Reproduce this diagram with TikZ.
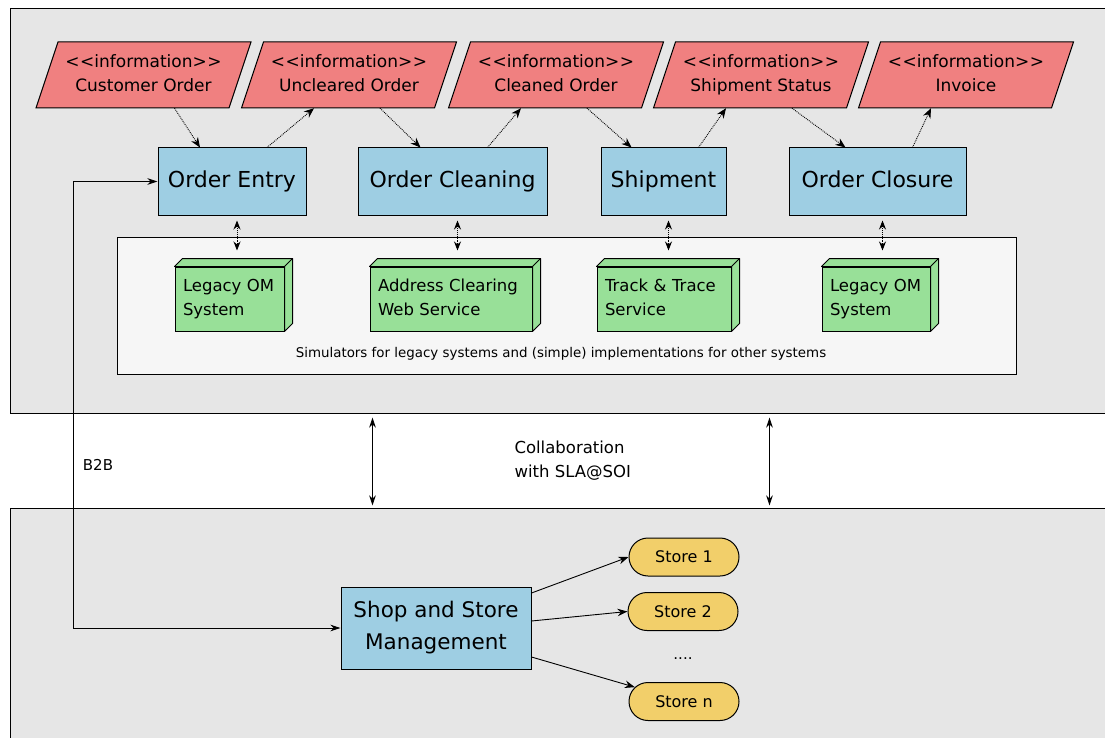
\documentclass[tikz,border=0pt]{standalone}
\usepackage{fontspec}
\setmainfont{DejaVu Sans}
\usetikzlibrary{arrows.meta,shapes.misc}

\definecolor{panelgray}{RGB}{230,230,230}
\definecolor{simwhite}{RGB}{246,246,246}
\definecolor{infored}{RGB}{240,128,128}
\definecolor{taskblue}{RGB}{158,206,227}
\definecolor{simgreen}{RGB}{152,224,152}
\definecolor{storeyellow}{RGB}{242,207,106}

% guillemet-free stereotype (keeps << and >> apart)
\newcommand{\stereotype}[1]{<\kern0.5pt<#1>\kern0.5pt>}

\begin{document}
\begin{tikzpicture}[x=1pt, y=-1pt,
  panel/.style={draw, line width=1pt, fill=panelgray, inner sep=0pt},
  infobox/.style={draw, line width=1pt, fill=infored, line join=miter},
  info/.style={minimum width=193pt, minimum height=66pt, inner sep=0pt,
    align=center, font=\fontsize{17}{24}\selectfont},
  task/.style={draw, line width=1pt, fill=taskblue, minimum height=67pt,
    inner sep=0pt, align=center, font=\fontsize{22}{32}\selectfont},
  sim/.style={draw, line width=1pt, fill=simgreen, minimum height=64pt,
    inner xsep=8pt, inner ysep=0pt, align=left,
    font=\fontsize{16.5}{24}\selectfont},
  store/.style={rounded rectangle, draw, line width=1pt, fill=storeyellow,
    minimum width=110pt, minimum height=38pt, inner sep=0pt,
    font=\fontsize{16}{20}\selectfont},
  flow/.style={densely dotted, line width=0.9pt, -{Stealth[length=10pt,width=8pt]}},
  link/.style={densely dotted, line width=0.9pt,
    {Stealth[length=9pt,width=7pt]}-{Stealth[length=9pt,width=7pt]}},
  bidir/.style={line width=0.9pt,
    {Stealth[length=10pt,width=6.5pt]}-{Stealth[length=10pt,width=6.5pt]}},
  feed/.style={line width=0.9pt, -{Stealth[length=10pt,width=7.5pt]}}
]
\clip (0,0) rectangle (1105,738);

% panels
\node[panel, minimum width=1115pt, minimum height=404pt] (toppanel) at (567.5,211) {};
\node[panel, minimum width=1115pt, minimum height=252pt] (botpanel) at (567.5,634) {};
\node[draw, line width=1pt, fill=simwhite, minimum width=899pt, minimum height=137pt,
  inner sep=0pt] (sims) at (566.5,305.5) {};
\node[font=\fontsize{13.4}{16}\selectfont] (simnote) at (561,354)
  {Simulators for legacy systems and (simple) implementations for other systems};

% information objects
\foreach \x/\n/\txt in {143.5/cust/Customer Order, 349/uncl/Uncleared Order,
    556/clnd/Cleaned Order, 761/stat/Shipment Status, 966/invc/Invoice} {
  \filldraw[infobox] (\x-85.5,42) -- (\x+107.5,42) -- (\x+85.5,108) -- (\x-107.5,108) -- cycle;
  \node[info] (\n) at (\x,75) {\strut\stereotype{information}\\\txt\strut};
}

% process steps
\node[task, minimum width=148pt] (oe) at (232,181.5) {\strut Order Entry};
\node[task, minimum width=189pt] (oc) at (452.5,181.5) {\strut Order Cleaning};
\node[task, minimum width=125pt] (sh) at (663.5,181.5) {\strut Shipment};
\node[task, minimum width=177pt] (cl) at (877.5,181.5) {\strut Order Closure};

\foreach \i/\t in {cust/oe, uncl/oc, clnd/sh, stat/cl}
  \draw[flow] ([shift={(31,0)}]\i.south) -- ([shift={(-32,0)}]\t.north);
\foreach \t/\o in {oe/uncl, oc/clnd, sh/stat, cl/invc}
  \draw[flow] ([shift={(35,0)}]\t.north) -- ([shift={(-35,0)}]\o.south);

% simulated systems
\node[sim, text width=93pt] (lom1) at (229.5,299) {\strut Legacy OM\\System\strut};
\node[sim, text width=146pt] (acws) at (451,299) {\strut Address Clearing\\Web Service\strut};
\node[sim, text width=118pt] (tts) at (664,299) {\strut Track \& Trace\\Service\strut};
\node[sim, text width=92pt] (lom2) at (876,299) {\strut Legacy OM\\System\strut};

\foreach \n in {lom1, acws, tts, lom2} {
  \filldraw[line width=1pt, fill=simgreen, line join=round]
    (\n.north west) -- ++(8,-8) -- ([shift={(8,-8)}]\n.north east)
    -- ([shift={(8,-8)}]\n.south east) -- (\n.south east) -- (\n.north east) -- cycle;
  \draw[line width=1pt] (\n.north east) -- ++(8,-8);
}

\foreach \t in {oe, oc, sh, cl}
  \draw[link] ([shift={(5,5)}]\t.south) -- ([shift={(5,35)}]\t.south);

% collaboration
\draw[bidir] ([shift={(363,4)}]toppanel.south west) -- ([shift={(363,-2)}]botpanel.north west);
\draw[bidir] ([shift={(760,4)}]toppanel.south west) -- ([shift={(760,-2)}]botpanel.north west);
\node[anchor=west, align=left, font=\fontsize{16.5}{24}\selectfont] (collab)
  at (511,461) {Collaboration\\with SLA@SOI};

% shop side
\node[task, minimum width=190pt, minimum height=82pt, font=\fontsize{21.5}{32}\selectfont]
  (shop) at (436,628) {Shop and Store\\Management};
\node[store] (st1) at (684,557) {Store 1};
\node[store] (st2) at (683,611.5) {Store 2};
\node[font=\fontsize{15}{18}\selectfont] (dots) at (683,659) {....};
\node[store] (stn) at (684,701.5) {Store n};

\draw[feed] ([shift={(0,-35)}]shop.east) -- (st1.west);
\draw[feed] ([shift={(0,-7)}]shop.east) -- (st2.west);
\draw[feed] ([shift={(0,29)}]shop.east) -- (stn);

\draw[bidir] (shop.west) -- ++(-267,0) |- (oe.west);
\node[font=\fontsize{15}{18}\selectfont] (b2b) at (98,465) {B2B};

\end{tikzpicture}
\end{document}
